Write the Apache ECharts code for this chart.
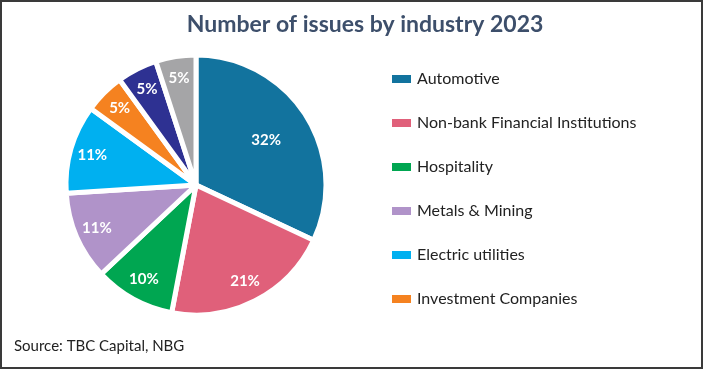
<!DOCTYPE html>
<html><head><meta charset="utf-8">
<script src="https://cdn.jsdelivr.net/npm/echarts@6/dist/echarts.min.js"></script>
<style>html,body{margin:0;padding:0;background:#fff}#c{width:703px;height:369px}
#frame{position:absolute;left:0;top:0;width:699px;height:365px;border:2px solid #3a3a3a;pointer-events:none}</style>
</head><body><div id="c"></div><div id="frame"></div>
<script>
const categories = ['Automotive','Non-bank Financial Institutions','Hospitality','Metals & Mining','Electric utilities','Investment Companies','Other industries','Other'];
const shares = [32,21,10,11,11,5,5,5];
const legendItems = ['Automotive','Non-bank Financial Institutions','Hospitality','Metals & Mining','Electric utilities','Investment Companies'];
const colors = ['#12739E','#E0607A','#00A651','#B093C9','#00B0F0','#F58220','#2E3192','#A5A5A7'];

const chart = echarts.init(document.getElementById('c'));
const data = categories.map((n,i)=>({name:n,value:shares[i]}));
const lbl = {show:true,position:'inside',formatter:p=>p.value+'%',color:'#fff',fontFamily:'Lato',fontWeight:'bold',fontSize:15};
chart.setOption({
  animation:false,
  color:colors,
  title:{text:'Number of issues by industry 2023',left:360,top:8,textAlign:'center',
    textStyle:{fontFamily:'Lato',fontWeight:'bold',fontSize:23,color:'#3D4F6B'}},
  graphic:[{type:'text',left:14,top:339,style:{text:'Source: TBC Capital, NBG',font:'15px Lato',fill:'#222'}}],
  legend:{data:legendItems,orient:'vertical',left:385,top:66,itemWidth:21,itemHeight:10,itemGap:28,
    textStyle:{fontFamily:'Lato',fontSize:16,color:'#222'},icon:'rect',selectedMode:false},
  series:[
    {type:'pie',center:[196,185],radius:[0,130],startAngle:90,clockwise:true,
     itemStyle:{borderColor:'#fff',borderWidth:5},label:{show:false},labelLine:{show:false},
     data:data},
    {type:'pie',center:[196,185],radius:[80,130],startAngle:90,clockwise:true,silent:true,
     itemStyle:{color:'rgba(0,0,0,0)'},label:lbl,labelLine:{show:false},
     data:data.map((d,i)=>({name:d.name+' ',value:d.value,label:{show:i!==0}}))},
    {type:'pie',center:[196,185],radius:[30,130],startAngle:90,clockwise:true,silent:true,
     itemStyle:{color:'rgba(0,0,0,0)'},label:lbl,labelLine:{show:false},
     data:data.map((d,i)=>({name:d.name+'  ',value:d.value,label:{show:i===0}}))}
  ]
});
</script></body></html>
